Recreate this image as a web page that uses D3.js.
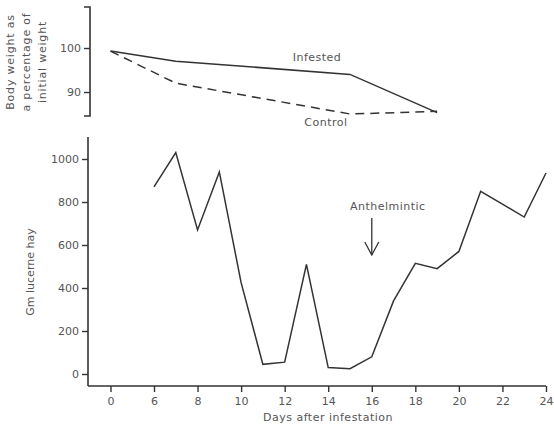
<!DOCTYPE html>
<html>
<head>
<meta charset="utf-8">
<script src="https://cdn.jsdelivr.net/npm/d3@7"></script>
<style>
  body { margin: 0; background: #fff; }
  svg { display: block; }
  text { font-family: "DejaVu Sans", sans-serif; fill: #555; }
</style>
</head>
<body>
<div id="chart"></div>
<script>
// top panel: body weight as % of initial
var weightDays = [0, 7, 15, 19];
var infested = [99.3, 97, 94, 85.3];
var control = [99.3, 92, 85, 85.6];

// bottom panel: daily hay intake
var hayDays = [6, 7, 8, 9, 10, 11, 12, 13, 14, 15, 16, 17, 18, 19, 20, 21, 22, 23, 24];
var hay = [870, 1030, 670, 940, 425, 45, 55, 510, 30, 25, 80, 340, 515, 490, 570, 850, 790, 730, 935];

var xTicks = [0, 6, 8, 10, 12, 14, 16, 18, 20, 22, 24];
var hayTicks = [0, 200, 400, 600, 800, 1000];
var weightTicks = [90, 100];
var drugDay = 16;

var width = 554, height = 427;
var ink = "#333";

var svg = d3.select( "#chart" ).append( "svg" )
  .attr( "width", width ).attr( "height", height );

// axis is broken between 0 and 6
var x = d3.scaleLinear().domain( [ 0, 6, 24 ] ).range( [ 110.5, 154, 546 ] );
var yHay = d3.scaleLinear().domain( [ 0, 1000 ] ).range( [ 374, 159 ] );
var yW = d3.scaleLinear().domain( [ 90, 100 ] ).range( [ 92, 48 ] );

function styleAxis( g ) {
  g.select( ".domain" ).remove();
  g.selectAll( ".tick line" ).attr( "stroke", ink ).attr( "stroke-width", 1.4 );
  g.selectAll( ".tick text" ).attr( "fill", "#555" )
    .style( "font-family", "DejaVu Sans, sans-serif" ).style( "font-size", "11px" );
}

// ---- bottom panel ----
svg.append( "g" ).attr( "transform", "translate(0,386)" )
  .call( d3.axisBottom( x ).tickValues( xTicks ).tickSize( 6 ).tickPadding( 5 ) )
  .call( styleAxis );
svg.append( "line" ).attr( "x1", 88 ).attr( "x2", 546 ).attr( "y1", 386 ).attr( "y2", 386 )
  .attr( "stroke", ink ).attr( "stroke-width", 1.6 );

svg.append( "g" ).attr( "transform", "translate(88,0)" )
  .call( d3.axisLeft( yHay ).tickValues( hayTicks ).tickFormat( d3.format( "d" ) )
    .tickSize( 6 ).tickPadding( 3 ) )
  .call( styleAxis );
svg.append( "line" ).attr( "x1", 88 ).attr( "x2", 88 ).attr( "y1", 137 ).attr( "y2", 386 )
  .attr( "stroke", ink ).attr( "stroke-width", 1.6 );

var hayLine = d3.line()
  .x( function( d, i ) { return x( hayDays[ i ] ); } )
  .y( function( d ) { return yHay( d ); } );
svg.append( "path" ).datum( hay ).attr( "d", hayLine )
  .attr( "fill", "none" ).attr( "stroke", ink ).attr( "stroke-width", 1.5 );

svg.append( "text" ).attr( "x", 328 ).attr( "y", 421 ).attr( "text-anchor", "middle" )
  .style( "font-size", "11px" ).style( "letter-spacing", "0.5px" ).text( "Days after infestation" );

svg.append( "text" ).attr( "transform", "translate(30,272) rotate(-90)" )
  .attr( "text-anchor", "middle" ).attr( "dominant-baseline", "central" )
  .style( "font-size", "11px" ).text( "Gm lucerne hay" );

// anthelmintic arrow
var ax = x( drugDay );
svg.append( "text" ).attr( "x", ax + 16 ).attr( "y", 210 ).attr( "text-anchor", "middle" )
  .style( "font-size", "11px" ).style( "letter-spacing", "0.5px" ).text( "Anthelmintic" );
svg.append( "line" ).attr( "x1", ax ).attr( "x2", ax ).attr( "y1", 218 ).attr( "y2", 255 )
  .attr( "stroke", ink ).attr( "stroke-width", 1.3 );
svg.append( "path" )
  .attr( "d", "M" + ( ax - 7 ) + ",242 L" + ax + ",255 L" + ( ax + 7 ) + ",242" )
  .attr( "fill", "none" ).attr( "stroke", ink ).attr( "stroke-width", 1.3 );

// ---- top panel ----
svg.append( "g" ).attr( "transform", "translate(90,0)" )
  .call( d3.axisLeft( yW ).tickValues( weightTicks ).tickSize( 6 ).tickPadding( 3 ) )
  .call( styleAxis );
svg.append( "path" ).attr( "d", "M84,7 H90 V116 H84" )
  .attr( "fill", "none" ).attr( "stroke", ink ).attr( "stroke-width", 1.6 );

var wLine = d3.line()
  .x( function( d, i ) { return x( weightDays[ i ] ); } )
  .y( function( d ) { return yW( d ); } );
svg.append( "path" ).datum( infested ).attr( "d", wLine )
  .attr( "fill", "none" ).attr( "stroke", ink ).attr( "stroke-width", 1.5 );
svg.append( "path" ).datum( control ).attr( "d", wLine )
  .attr( "fill", "none" ).attr( "stroke", ink ).attr( "stroke-width", 1.5 )
  .attr( "stroke-dasharray", "9,6" );

svg.append( "text" ).attr( "x", 317 ).attr( "y", 61 ).attr( "text-anchor", "middle" )
  .style( "font-size", "11px" ).style( "letter-spacing", "0.5px" ).text( "Infested" );
svg.append( "text" ).attr( "x", 326 ).attr( "y", 126 ).attr( "text-anchor", "middle" )
  .style( "font-size", "11px" ).style( "letter-spacing", "0.5px" ).text( "Control" );

var wLabel = [ "Body weight as", "a percentage of", "initial   weight" ];
svg.selectAll( "text.wlab" ).data( wLabel ).enter().append( "text" )
  .attr( "class", "wlab" )
  .attr( "transform", function( d, i ) { return "translate(" + ( 10 + i * 16 ) + ",62) rotate(-90)"; } )
  .attr( "text-anchor", "middle" ).attr( "dominant-baseline", "central" )
  .style( "font-size", "11px" ).style( "letter-spacing", "0.8px" )
  .text( function( d ) { return d; } );
</script>
</body>
</html>
